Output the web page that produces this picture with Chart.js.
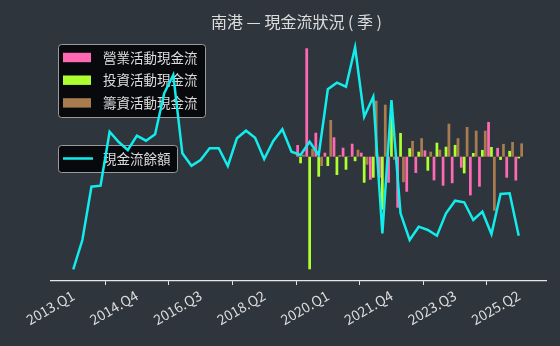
<!DOCTYPE html>
<html>
<head>
<meta charset="utf-8">
<script src="https://cdn.jsdelivr.net/npm/chart.js@4.4.1/dist/chart.umd.min.js"></script>
<style>
  body { margin: 0; background: #2f353d; }
  canvas { display: block; }
</style>
</head>
<body>
<canvas id="cashChart" width="560" height="346"></canvas>
<script>
// 季度（x 軸類別）
const quarters = [
  '2013.Q1','2013.Q2','2013.Q3','2013.Q4','2014.Q1','2014.Q2','2014.Q3','2014.Q4',
  '2015.Q1','2015.Q2','2015.Q3','2015.Q4','2016.Q1','2016.Q2','2016.Q3','2016.Q4',
  '2017.Q1','2017.Q2','2017.Q3','2017.Q4','2018.Q1','2018.Q2','2018.Q3','2018.Q4',
  '2019.Q1','2019.Q2','2019.Q3','2019.Q4','2020.Q1','2020.Q2','2020.Q3','2020.Q4',
  '2021.Q1','2021.Q2','2021.Q3','2021.Q4','2022.Q1','2022.Q2','2022.Q3','2022.Q4',
  '2023.Q1','2023.Q2','2023.Q3','2023.Q4','2024.Q1','2024.Q2','2024.Q3','2024.Q4',
  '2025.Q1','2025.Q2'
];
const tickLabels = ['2013.Q1','2014.Q4','2016.Q3','2018.Q2','2020.Q1','2021.Q4','2023.Q3','2025.Q2'];

// 營業 / 投資 / 籌資 活動現金流（2019.Q2 之前無資料）
const operating = [
  null,null,null,null,null,null,null,null,null,null,null,null,null,null,null,null,
  null,null,null,null,null,null,null,null,null,
  11.7, 108.4, 24, 4, 19.4, 9, 13, 4, -23, -21, -26, -51, -35, -16.3, 6.3,
  -23.7, -29, -26.5, -11, -38.7, -30, 34.7, 8.8, -21, -23.8
];
const investing = [
  null,null,null,null,null,null,null,null,null,null,null,null,null,null,null,null,
  null,null,null,null,null,null,null,null,null,
  -6.6, -112.6, -20, -9.3, -18.3, -13, -4.5, -26, -21, -53, 40, 23.7, 8.5, 5, -14,
  14, 10, 11.8, -16.7, 3.7, 6.8, 9.7, -3.2, 5.8, -1.7
];
const financing = [
  null,null,null,null,null,null,null,null,null,null,null,null,null,null,null,null,
  null,null,null,null,null,null,null,null,null,
  2, 8, -9.3, 36.7, 1.7, 0.5, 7, -8, 56, 52, -3, -25.5, 15.8, 18.5, 5,
  7, 33, 18.5, 29.7, 26, 26, -54, 12.8, 14.7, 13.3
];
// 現金流餘額
const balance = [
  11.7, 41, 94.3, 95.3, 149.3, 139, 131, 145.3, 140.3, 146.7,
  187.7, 206, 127.7, 115.3, 121, 132.7, 132.7, 115, 142.7, 150.3,
  143.3, 122, 140, 151.7, 129.3, 126, 139.3, 126, 191.7, 198.3,
  194.3, 233.7, 164.3, 184.3, 47.7, 181, 67.7, 41, 54.3, 51,
  45.3, 67.7, 80.3, 78.7, 61, 69.3, 47, 87, 87.7, 45.3
];

const toPoints = arr => arr.map((v, i) => ({ x: i, y: v }));

const bgColor = '#2f353d';
const textColor = '#dcdcdc';
const fontFamily = '"Noto Sans CJK TC", "Noto Sans", sans-serif';

// 背景
const background = {
  id: 'background',
  beforeDraw(chart) {
    const ctx = chart.ctx;
    ctx.save();
    ctx.fillStyle = bgColor;
    ctx.fillRect(0, 0, chart.width, chart.height);
    ctx.restore();
  }
};

// 標題
const titlePlugin = {
  id: 'titlePlugin',
  afterDraw(chart) {
    const ctx = chart.ctx;
    const area = chart.chartArea;
    ctx.save();
    ctx.fillStyle = textColor;
    ctx.font = '16px ' + fontFamily;
    ctx.textAlign = 'center';
    ctx.textBaseline = 'middle';
    ctx.fillText('南港 — 現金流狀況 ( 季 )', (area.left + area.right) / 2 - 2, 22);
    ctx.restore();
  }
};

function roundBox(ctx, x, y, w, h, r) {
  ctx.beginPath();
  ctx.moveTo(x + r, y);
  ctx.arcTo(x + w, y, x + w, y + h, r);
  ctx.arcTo(x + w, y + h, x, y + h, r);
  ctx.arcTo(x, y + h, x, y, r);
  ctx.arcTo(x, y, x + w, y, r);
  ctx.closePath();
  ctx.fillStyle = 'rgba(5,5,8,0.92)';
  ctx.fill();
  ctx.strokeStyle = '#9a9a9a';
  ctx.lineWidth = 1;
  ctx.stroke();
}

// 兩個圖例框（畫在資料之下，線會蓋過去）
const legendBoxes = {
  id: 'legendBoxes',
  beforeDatasetsDraw(chart) {
    const ctx = chart.ctx;
    const ds = chart.data.datasets;
    ctx.save();
    ctx.font = '13.5px ' + fontFamily;
    ctx.textBaseline = 'middle';
    ctx.textAlign = 'left';

    roundBox(ctx, 58.5, 44.5, 147, 73, 3);
    ds.slice(0, 3).forEach((d, k) => {
      const cy = 57.5 + k * 22.7;
      ctx.fillStyle = d.backgroundColor;
      ctx.fillRect(63, cy - 4.7, 28, 9.4);
      ctx.fillStyle = textColor;
      ctx.fillText(d.label, 103, cy);
    });

    roundBox(ctx, 58.5, 145.5, 119, 27, 3);
    ctx.strokeStyle = ds[3].borderColor;
    ctx.lineWidth = 2.5;
    ctx.beginPath();
    ctx.moveTo(63, 158.5);
    ctx.lineTo(93, 158.5);
    ctx.stroke();
    ctx.fillStyle = textColor;
    ctx.fillText(ds[3].label, 103, 158.5);
    ctx.restore();
  }
};

new Chart(document.getElementById('cashChart').getContext('2d'), {
  type: 'bar',
  data: {
    datasets: [
      {
        label: '營業活動現金流',
        data: toPoints(operating),
        backgroundColor: '#ff69b4',
        yAxisID: 'y',
        order: 1
      },
      {
        label: '投資活動現金流',
        data: toPoints(investing),
        backgroundColor: '#adff2f',
        yAxisID: 'y',
        order: 1
      },
      {
        label: '籌資活動現金流',
        data: toPoints(financing),
        backgroundColor: '#a97c50',
        yAxisID: 'y',
        order: 1
      },
      {
        type: 'line',
        label: '現金流餘額',
        data: toPoints(balance),
        borderColor: '#12ecec',
        borderWidth: 2.5,
        pointRadius: 0,
        tension: 0,
        yAxisID: 'y2',
        order: 0
      }
    ]
  },
  options: {
    responsive: false,
    animation: false,
    layout: { padding: { left: 51, right: 14, top: 37, bottom: 0 } },
    datasets: {
      bar: { categoryPercentage: 0.96, barPercentage: 0.94 }
    },
    plugins: {
      legend: { display: false },
      title: { display: false },
      tooltip: { enabled: false }
    },
    scales: {
      x: {
        type: 'linear',
        min: -2.45,
        max: 52,
        offset: false,
        afterBuildTicks: scale => {
          scale.ticks = tickLabels.map(t => ({ value: quarters.indexOf(t) }));
        },
        afterFit: scale => { scale.height = 65; },
        ticks: {
          autoSkip: false,
          minRotation: 30,
          maxRotation: 30,
          padding: 2,
          color: textColor,
          font: { family: fontFamily, size: 14 },
          callback: v => quarters[v]
        },
        grid: {
          display: true,
          drawOnChartArea: false,
          drawTicks: true,
          tickLength: 4,
          color: '#e6e6e6'
        },
        border: { display: true, color: '#e6e6e6', width: 1.2 }
      },
      y: {
        display: false,
        min: -124.3,
        max: 119.7
      },
      y2: {
        display: false,
        position: 'right',
        min: 0,
        max: 244
      }
    }
  },
  plugins: [background, legendBoxes, titlePlugin]
});
</script>
</body>
</html>
